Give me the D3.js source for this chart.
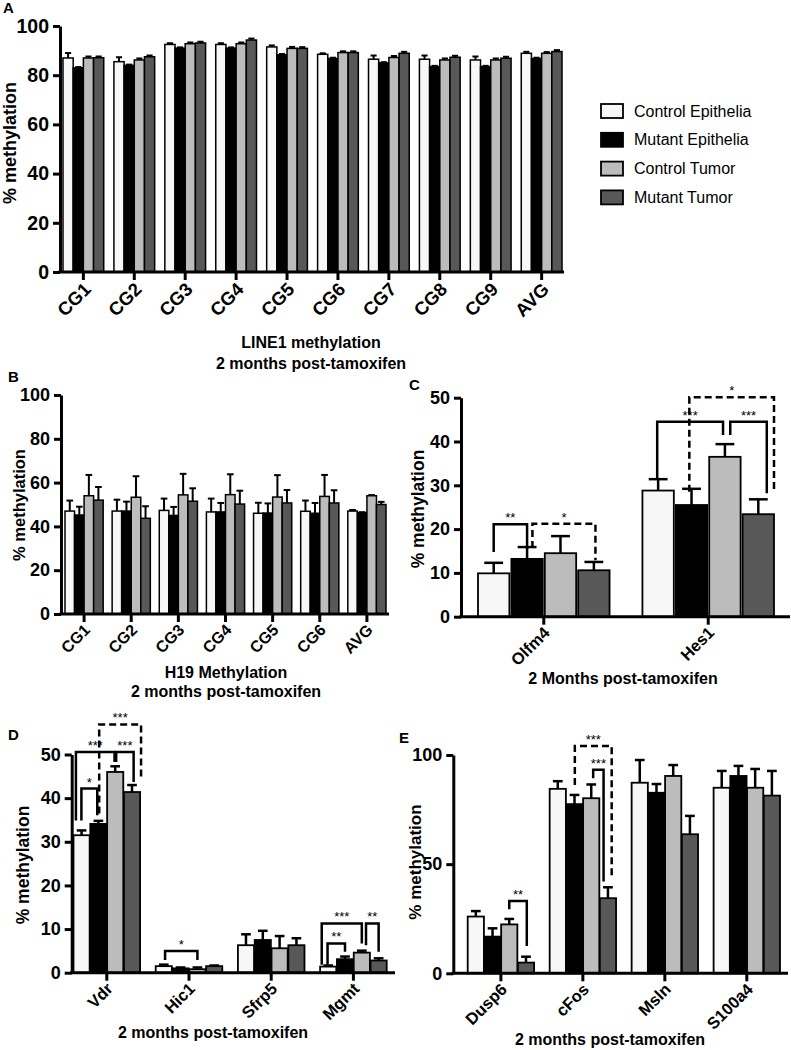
<!DOCTYPE html>
<html><head><meta charset="utf-8">
<script src="https://cdn.jsdelivr.net/npm/d3@7"></script>
<style>body{margin:0;background:#fff}svg{display:block}text{font-family:"Liberation Sans",Arial,sans-serif}</style>
</head><body>
<script>
// ---------- DATA ----------
const seriesNames = ["Control Epithelia","Mutant Epithelia","Control Tumor","Mutant Tumor"];
const seriesColors = ["#f7f7f7","#000000","#bcbcbc","#585858"];

// Panel A: LINE1
const catsA = ["CG1","CG2","CG3","CG4","CG5","CG6","CG7","CG8","CG9","AVG"];
const A_ctrlEpi = [87,85.5,92.5,92.5,91.5,88.5,86.5,86.5,86.2,88.9];
const A_mutEpi  = [83,84,91,91,88.3,86.8,85,83.5,83.5,86.8];
const A_ctrlTum = [87,86.2,92.8,92.8,90.9,89.2,87.2,86.2,86.2,88.9];
const A_mutTum  = [87.1,87.5,93.1,94.3,90.9,89.2,88.9,87.3,86.9,89.6];
const A_errCE = [2,1.8,0.5,0.5,0.6,0.4,1.5,1.5,1.4,0.6];
const A_errME = [0.3,0.3,0.3,0.3,0.3,0.3,0.3,0.3,0.3,0.3];
const A_errCT = [0.6,0.6,0.5,0.5,0.6,0.5,0.6,0.6,0.6,0.5];
const A_errMT = [0.5,0.5,0.5,0.6,0.5,0.5,0.6,0.6,0.6,0.6];
const ticksA = [0,20,40,60,80,100];

// Panel B: H19
const catsB = ["CG1","CG2","CG3","CG4","CG5","CG6","AVG"];
const B_ctrlEpi = [47,47,47.3,46.6,46,46.9,47];
const B_mutEpi  = [45.2,47,45,46.6,46.1,46,46.2];
const B_ctrlTum = [54,53.3,54.4,54.5,53.4,53.7,54];
const B_mutTum  = [52,43.7,51.5,50.2,50.7,50.7,50];
const B_errCE = [4.8,5.2,5.4,6.1,4.8,4.9,0.5];
const B_errME = [3.8,4.3,3.9,4.1,4.4,4.7,0.3];
const B_errCT = [9.5,9.6,9.6,9.3,10,9.8,0.3];
const B_errMT = [6,5.5,5.9,6.1,5.9,5.8,1.2];
const ticksB = [0,20,40,60,80,100];

// Panel C
const catsC = ["Olfm4","Hes1"];
const C_ctrlEpi = [9.9,28.8];
const C_mutEpi  = [13.2,25.5];
const C_ctrlTum = [14.5,36.5];
const C_mutTum  = [10.6,23.4];
const C_errCE = [2.4,2.6];
const C_errME = [2.7,3.7];
const C_errCT = [3.9,2.9];
const C_errMT = [1.9,3.4];
const ticksC = [0,10,20,30,40,50];
// brackets: group, bar a (+fraction), bar b (+fraction), top value, left end value, right end value, label, dashed
const bracketsC = [
  [0, 0.5, 1.5, 21.1, 14.8, 15.5, "**", false],
  [0, 1.67, 3.55, 21.2, 15.7, 12.9, "*", true],
  [1, 0.47, 2.44, 44.5, 31.4, 41.5, "***", false],
  [1, 2.67, 3.77, 44.5, 41.5, 28.2, "***", false],
  [1, 1.43, 4.0, 50.1, 28.5, 28.5, "*", true]
];

// Panel D
const catsD = ["Vdr","Hic1","Sfrp5","Mgmt"];
const D_ctrlEpi = [31.5,1.5,6.3,1.4];
const D_mutEpi  = [34.1,1.0,7.5,3.1];
const D_ctrlTum = [46,0.8,5.6,4.6];
const D_mutTum  = [41.4,1.5,6.3,2.8];
const D_errCE = [1.1,0.35,2.5,0.25];
const D_errME = [0.7,0.2,2.1,0.6];
const D_errCT = [1.3,0.4,2.8,0.45];
const D_errMT = [1.6,0.15,1.6,0.5];
const ticksD = [0,10,20,30,40,50];
const bracketsD = [
  [0, 1.55, 4.06, 56.9, 36.5, 44.1, "***", true],
  [0, 0.15, 2.46, 50.6, 34.9, 48.3, "***", false],
  [0, 2.56, 3.6, 50.6, 48.3, 43.7, "***", false],
  [0, 0.49, 1.43, 42.2, 34.9, 36.1, "*", false],
  [1, 0.58, 2.5, 5.0, 2.9, 2.9, "*", false],
  [3, 0.1, 2.5, 11.3, 1.8, 6.7, "***", false],
  [3, 0.46, 1.5, 6.7, 1.8, 4.8, "**", false],
  [3, 2.76, 3.5, 11.3, 6.3, 4.8, "**", false]
];

// Panel E
const catsE = ["Dusp6","cFos","Msln","S100a4"];
const E_ctrlEpi = [26,84.5,87.3,85];
const E_mutEpi  = [16.8,77.5,82.7,90.4];
const E_ctrlTum = [22.4,80.2,90.4,85];
const E_mutTum  = [4.9,34.4,63.7,81.4];
const E_errCE = [2.5,3.5,10.4,7.7];
const E_errME = [3.8,4.2,4,4.6];
const E_errCT = [2.5,6.3,5,8.6];
const E_errMT = [2.7,5,8.4,11.3];
const ticksE = [0,50,100];
const bracketsE = [
  [0, 2.5, 3.55, 33.1, 29.3, 12.5, "**", false],
  [1, 1.52, 3.73, 104.1, 86.3, 43.5, "***", true],
  [1, 2.62, 3.23, 93.2, 89.3, 42, "***", false]
];

// ---------- DRAW ----------
const svg = d3.select("body").append("svg").attr("width",791).attr("height",1050);

function panel(c){
  const g = svg.append("g");
  const y = d3.scaleLinear().domain([0,c.max]).range([c.yBottom,c.yTop]);
  const xb = d3.scaleBand().domain(c.cats).range([c.bandStart,c.bandEnd]).paddingInner(c.pi).paddingOuter(0);
  const xi = d3.scaleBand().domain(d3.range(4)).range([0,xb.bandwidth()]).paddingInner(c.ip).paddingOuter(0);
  const bw = xi.bandwidth();
  const barX = (gi, f) => xb(c.cats[gi]) + xi(Math.min(3,Math.floor(f))) + (f - Math.min(3,Math.floor(f)))*bw;

  // bars
  c.cats.forEach((cat,i)=>{
    for(let s=0;s<4;s++){
      const v = c.means[s][i], e = c.errs[s][i];
      const x = xb(cat)+xi(s);
      const cx = x + bw/2;
      const capW = bw*c.cap;
      g.append("line").attr("x1",cx).attr("x2",cx).attr("y1",y(v)).attr("y2",y(v+e))
        .attr("stroke","#000").attr("stroke-width",c.ew);
      g.append("line").attr("x1",cx-capW/2).attr("x2",cx+capW/2).attr("y1",y(v+e)).attr("y2",y(v+e))
        .attr("stroke","#000").attr("stroke-width",c.ew);
      g.append("rect").attr("x",x).attr("y",y(v)).attr("width",bw).attr("height",y(0)-y(v))
        .attr("fill",seriesColors[s]).attr("stroke","#000").attr("stroke-width",c.bs);
    }
  });

  // y axis
  const ya = g.append("g").attr("transform",`translate(${c.x0},0)`)
    .call(d3.axisLeft(y).tickValues(c.ticks).tickSize(7).tickSizeOuter(0).tickPadding(4));
  ya.select(".domain").attr("stroke-width",c.aw);
  ya.selectAll(".tick line").attr("stroke-width",c.aw);
  ya.selectAll(".tick text").attr("font-size",c.tfs).attr("font-weight","bold").attr("fill","#000");
  // x axis
  g.append("line").attr("x1",c.x0-c.aw/2).attr("x2",c.x1).attr("y1",y(0)).attr("y2",y(0))
    .attr("stroke","#000").attr("stroke-width",c.aw);
  c.cats.forEach(cat=>{
    const cx = xb(cat)+xb.bandwidth()/2;
    g.append("line").attr("x1",cx).attr("x2",cx).attr("y1",y(0)).attr("y2",y(0)+8)
      .attr("stroke","#000").attr("stroke-width",c.aw);
    g.append("text").attr("transform",`translate(${cx+c.lx},${y(0)+c.ly}) rotate(-45)`)
      .attr("text-anchor","end").attr("dy","0.35em").attr("font-size",c.xfs).attr("font-weight","bold").text(cat);
  });
  // y title
  g.append("text").attr("transform",`translate(${c.ytx},${c.yty}) rotate(-90)`)
    .attr("text-anchor","middle").attr("dy","0.35em").attr("font-size",c.ytfs).attr("font-weight","bold").text("% methylation");
  // panel letter
  g.append("text").attr("x",c.lab[1]).attr("y",c.lab[2]).attr("font-size",15).attr("font-weight","bold").text(c.lab[0]);
  // titles
  (c.titles||[]).forEach(t=>{
    g.append("text").attr("x",t[1]).attr("y",t[2]).attr("text-anchor","middle")
      .attr("font-size",16).attr("font-weight","bold").text(t[0]);
  });
  // brackets
  (c.brackets||[]).forEach(b=>{
    const xa = barX(b[0],b[1]), xc = barX(b[0],b[2]);
    g.append("path").attr("d",`M${xa},${y(b[4])}V${y(b[3])}H${xc}V${y(b[5])}`)
      .attr("fill","none").attr("stroke","#000").attr("stroke-width",2.5)
      .attr("stroke-dasharray",b[7]?"7,4":null);
    g.append("text").attr("x",(xa+xc)/2).attr("y",y(b[3])-2).attr("text-anchor","middle")
      .attr("font-size",13).text(b[6]);
  });
}

panel({cats:catsA, means:[A_ctrlEpi,A_mutEpi,A_ctrlTum,A_mutTum], errs:[A_errCE,A_errME,A_errCT,A_errMT],
  max:100, ticks:ticksA, yTop:26, yBottom:272, x0:60, x1:564, bandStart:63, bandEnd:562, pi:0.2, ip:0,
  cap:0.6, ew:2, bs:1.5, aw:3, tfs:19.5, xfs:18.5, lx:4, ly:14, ytx:10, yty:143, ytfs:18,
  lab:["A",3,13], titles:[["LINE1 methylation",311,348],["2 months post-tamoxifen",311,369]]});

panel({cats:catsB, means:[B_ctrlEpi,B_mutEpi,B_ctrlTum,B_mutTum], errs:[B_errCE,B_errME,B_errCT,B_errMT],
  max:100, ticks:ticksB, yTop:395, yBottom:614, x0:61, x1:389, bandStart:65, bandEnd:386, pi:0.19, ip:0,
  cap:0.7, ew:2, bs:1.5, aw:3, tfs:18, xfs:16, lx:3, ly:13, ytx:19, yty:505, ytfs:16.5,
  lab:["B",8,382], titles:[["H19 Methylation",226,678],["2 months post-tamoxifen",226,697]]});

panel({cats:catsC, means:[C_ctrlEpi,C_mutEpi,C_ctrlTum,C_mutTum], errs:[C_errCE,C_errME,C_errCT,C_errMT],
  max:50, ticks:ticksC, yTop:397.7, yBottom:616.7, x0:461, x1:790, bandStart:478, bandEnd:774, pi:0.2, ip:0.06,
  cap:0.6, ew:2.5, bs:1.8, aw:3, tfs:18, xfs:16.5, lx:3, ly:13, ytx:418, yty:509, ytfs:17.5,
  lab:["C",409,390], titles:[["2 Months post-tamoxifen",623,684]], brackets:bracketsC});

panel({cats:catsD, means:[D_ctrlEpi,D_mutEpi,D_ctrlTum,D_mutTum], errs:[D_errCE,D_errME,D_errCT,D_errMT],
  max:50, ticks:ticksD, yTop:754.5, yBottom:972.7, x0:71.7, x1:395, bandStart:73.5, bandEnd:386.7, pi:0.19, ip:0.04,
  cap:0.6, ew:2.5, bs:1.8, aw:3, tfs:18, xfs:16.5, lx:3, ly:13, ytx:23, yty:865, ytfs:17.5,
  lab:["D",8,740], titles:[["2 months post-tamoxifen",213,1038]], brackets:bracketsD});

panel({cats:catsE, means:[E_ctrlEpi,E_mutEpi,E_ctrlTum,E_mutTum], errs:[E_errCE,E_errME,E_errCT,E_errMT],
  max:100, ticks:ticksE, yTop:755, yBottom:973.3, x0:453.3, x1:788, bandStart:467.7, bandEnd:780, pi:0.19, ip:0.03,
  cap:0.6, ew:2.5, bs:1.8, aw:3, tfs:18, xfs:16.5, lx:3, ly:13, ytx:415, yty:862, ytfs:17,
  lab:["E",399,743], titles:[["2 months post-tamoxifen",610,1045]], brackets:bracketsE});

// legend
const lg = svg.append("g");
seriesNames.forEach((n,i)=>{
  const cy = 111 + i*28.8;
  lg.append("rect").attr("x",601).attr("y",cy-7).attr("width",22).attr("height",14)
    .attr("fill",seriesColors[i]).attr("stroke","#000").attr("stroke-width",1.8);
  lg.append("text").attr("x",634).attr("y",cy).attr("dy","0.35em").attr("font-size",16).text(n);
});
</script>
</body></html>
